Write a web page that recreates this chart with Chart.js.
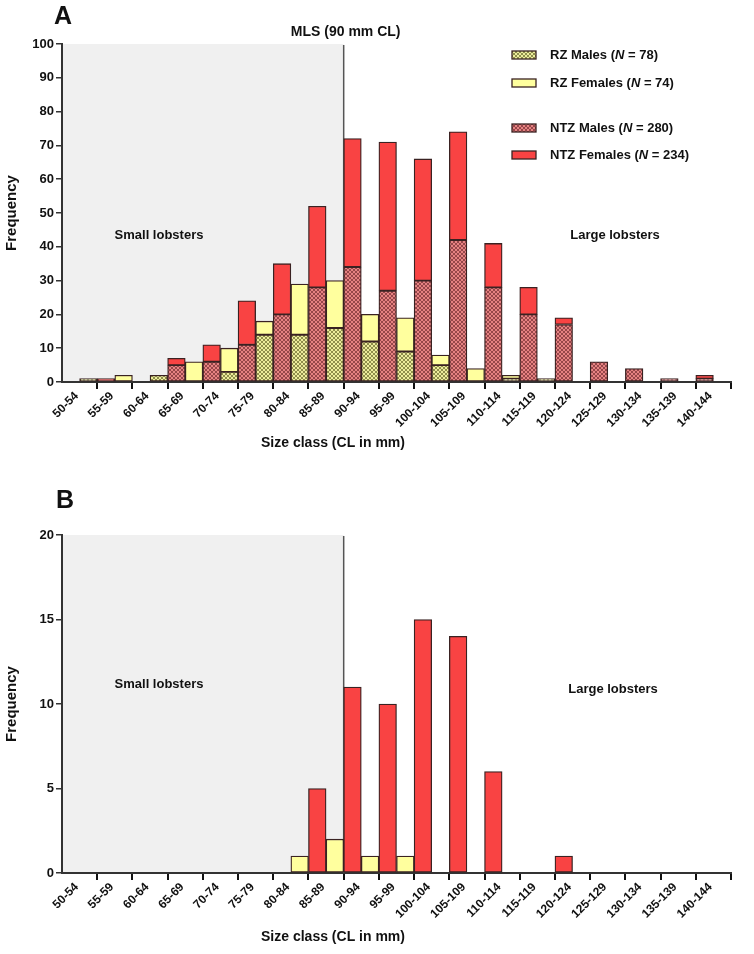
<!DOCTYPE html>
<html><head><meta charset="utf-8">
<script src="https://cdn.jsdelivr.net/npm/chart.js@4.4.1/dist/chart.umd.min.js"></script>
<style>
html,body{margin:0;padding:0;background:#fff;}
#wrap{position:relative;width:754px;height:954px;overflow:hidden;}
.panel{position:absolute;left:0;width:754px;}
</style></head><body>
<div id="wrap">
<div class="panel" style="top:0;height:480px"><canvas id="cA"></canvas></div>
<div class="panel" style="top:480px;height:474px"><canvas id="cB"></canvas></div>
</div>
<script>
// ---------------- DATA ----------------
const sizeClasses = ['50-54','55-59','60-64','65-69','70-74','75-79','80-84','85-89','90-94','95-99',
  '100-104','105-109','110-114','115-119','120-124','125-129','130-134','135-139','140-144'];
// Panel A
const rzMales    = [1,0,2,0,3,14,14,16,12,9,5,0,1,1,0,0,0,0,0];
const rzFemales  = [0,2,0,6,7,4,15,14,8,10,3,4,1,0,0,0,0,0,0];
const ntzMales   = [0,0,0,5,6,11,20,28,34,27,30,42,28,20,17,6,4,1,1];
const ntzFemales = [0,1,0,2,5,13,15,24,38,44,36,32,13,8,2,0,0,0,1];
// Panel B
const bRzFemales  = [0,0,0,0,0,0,1,2,1,1,0,0,0,0,0,0,0,0,0];
const bNtzFemales = [0,0,0,0,0,0,0,5,11,10,15,14,6,0,1,0,0,0,0];
// Axis ticks
const yTicksA = [0,10,20,30,40,50,60,70,80,90,100];
const yTicksB = [0,5,10,15,20];
// Legend
const legendNames = ['RZ Males','RZ Females','NTZ Males','NTZ Females'];
const legendN = [78,74,280,234];
const mlsClass = '90-94';

// ---------------- STYLE ----------------
const FONT = "'Liberation Sans', Arial, Helvetica, sans-serif";
function hatch(base, line){
  const c=document.createElement('canvas'); c.width=4; c.height=4;
  const g=c.getContext('2d'); g.fillStyle=base; g.fillRect(0,0,4,4);
  g.fillStyle=line;
  for(let i=0;i<4;i++){ g.fillRect(i,i,1,1); g.fillRect(3-i,i,1,1); }
  return g.createPattern(c,'repeat');
}
const C_RZM = hatch('#ecec9c','#8f8f4c');
const C_RZF = '#ffff9e';
const C_NTZM = hatch('#e68282','#97474a');
const C_NTZF = '#f94343';
const BORDER = '#3a2222';
const legendFills = [C_RZM, C_RZF, C_NTZM, C_NTZF];
const nz = a => a.map(v => v === 0 ? null : v);

function barDs(label, data, color, stack){
  return {label, data: nz(data), backgroundColor: color, borderColor: BORDER, borderWidth: 1.3,
    borderSkipped: false, stack, categoryPercentage: 1.0, barPercentage: 1.0};
}

function annot(cfg){
  return {
    id: 'annot',
    beforeDraw(chart){
      const {ctx, chartArea: ca, scales: {x}} = chart;
      const i = sizeClasses.indexOf(mlsClass);
      const mx = (x.getPixelForValue(i-1) + x.getPixelForValue(i)) / 2;
      ctx.save();
      ctx.fillStyle = '#f0f0f0';
      ctx.fillRect(ca.left, ca.top, mx - ca.left, ca.bottom - ca.top);
      ctx.restore();
      chart.$mx = mx;
    },
    beforeDatasetsDraw(chart){
      const {ctx, chartArea: ca} = chart;
      ctx.save();
      ctx.strokeStyle = '#555'; ctx.lineWidth = 1.5;
      ctx.beginPath(); ctx.moveTo(chart.$mx, ca.top + 1); ctx.lineTo(chart.$mx, ca.bottom); ctx.stroke();
      ctx.restore();
    },
    afterDraw(chart){
      const {ctx, chartArea: ca} = chart;
      ctx.save();
      ctx.fillStyle = '#111';
      ctx.textAlign = 'center'; ctx.textBaseline = 'middle';
      ctx.font = 'bold 25px ' + FONT;
      ctx.fillText(cfg.letter, cfg.letterX, cfg.letterY);
      if (cfg.mls) { ctx.font = 'bold 14px ' + FONT; ctx.fillText(cfg.mls, chart.$mx + 2, cfg.mlsY); }
      ctx.font = 'bold 13px ' + FONT;
      ctx.fillText('Small lobsters', cfg.smallX, cfg.smallY);
      ctx.fillText('Large lobsters', cfg.largeX, cfg.largeY);
      ctx.font = 'bold 14px ' + FONT;
      ctx.fillText('Size class (CL in mm)', cfg.xtX, cfg.xtY);
      ctx.save();
      ctx.translate(12, (ca.top + ca.bottom) / 2);
      ctx.rotate(-Math.PI/2);
      ctx.font = 'bold 15px ' + FONT;
      ctx.fillText('Frequency', 0, 0);
      ctx.restore();
      if (cfg.legend) {
        const rows = [55, 83, 128, 155];
        ctx.textAlign = 'left';
        rows.forEach((ry, k) => {
          ctx.fillStyle = legendFills[k];
          ctx.fillRect(512, ry - 4, 24, 8);
          ctx.strokeStyle = BORDER; ctx.lineWidth = 1.3;
          ctx.strokeRect(512, ry - 4, 24, 8);
          ctx.fillStyle = '#111';
          let tx = 550;
          const parts = [[legendNames[k] + ' (', 'bold '], ['N', 'italic bold '], [' = ' + legendN[k] + ')', 'bold ']];
          parts.forEach(([t, st]) => {
            ctx.font = st + '13px ' + FONT;
            ctx.fillText(t, tx, ry);
            tx += ctx.measureText(t).width;
          });
        });
      }
      ctx.restore();
    }
  };
}

function makeChart(id, datasets, yTicks, ymax, padTop, xH, cfg){
  return new Chart(document.getElementById(id), {
    type: 'bar',
    data: {labels: sizeClasses, datasets},
    options: {
      responsive: true, maintainAspectRatio: false, animation: false,
      layout: {padding: {left: 0, right: 23, top: padTop, bottom: 0}},
      plugins: {legend: {display: false}, tooltip: {enabled: false}},
      scales: {
        x: {
          stacked: true,
          grid: {offset: true, drawOnChartArea: false, drawTicks: true, tickLength: 7, lineWidth: 2,
            color: ctx => ctx.index === 0 ? 'rgba(0,0,0,0)' : '#111'},
          border: {display: true, color: '#333', width: 2},
          ticks: {autoSkip: false, maxRotation: 45, minRotation: 45, color: '#111', padding: 0, labelOffset: -3,
            font: {family: FONT, size: 12, weight: 'bold'}},
          afterFit: s => { s.height = xH; }
        },
        y: {
          stacked: true, min: 0, max: ymax,
          grid: {drawOnChartArea: false, drawTicks: true, tickLength: 6, lineWidth: 1.5, color: '#333'},
          border: {display: true, color: '#333', width: 2},
          ticks: {color: '#111', padding: 2, font: {family: FONT, size: 13, weight: 'bold'}},
          afterBuildTicks: s => { s.ticks = yTicks.map(v => ({value: v})); },
          afterFit: s => { s.width = 62; }
        }
      }
    },
    plugins: [annot(cfg)]
  });
}

makeChart('cA', [
  barDs('NTZ Males', ntzMales, C_NTZM, 'NTZ'),
  barDs('NTZ Females', ntzFemales, C_NTZF, 'NTZ'),
  barDs('RZ Males', rzMales, C_RZM, 'RZ'),
  barDs('RZ Females', rzFemales, C_RZF, 'RZ')
], yTicksA, 100, 44, 98, {letter: 'A', letterX: 63, letterY: 17, mls: 'MLS (90 mm CL)', mlsY: 32,
  smallX: 159, smallY: 235, largeX: 615, largeY: 235, xtX: 333, xtY: 443, legend: true});

makeChart('cB', [
  barDs('NTZ Females', bNtzFemales, C_NTZF, 'NTZ'),
  barDs('RZ Females', bRzFemales, C_RZF, 'RZ')
], yTicksB, 20, 55, 81, {letter: 'B', letterX: 65, letterY: 21, mls: null,
  smallX: 159, smallY: 204, largeX: 613, largeY: 209, xtX: 333, xtY: 457, legend: false});
</script>
</body></html>
